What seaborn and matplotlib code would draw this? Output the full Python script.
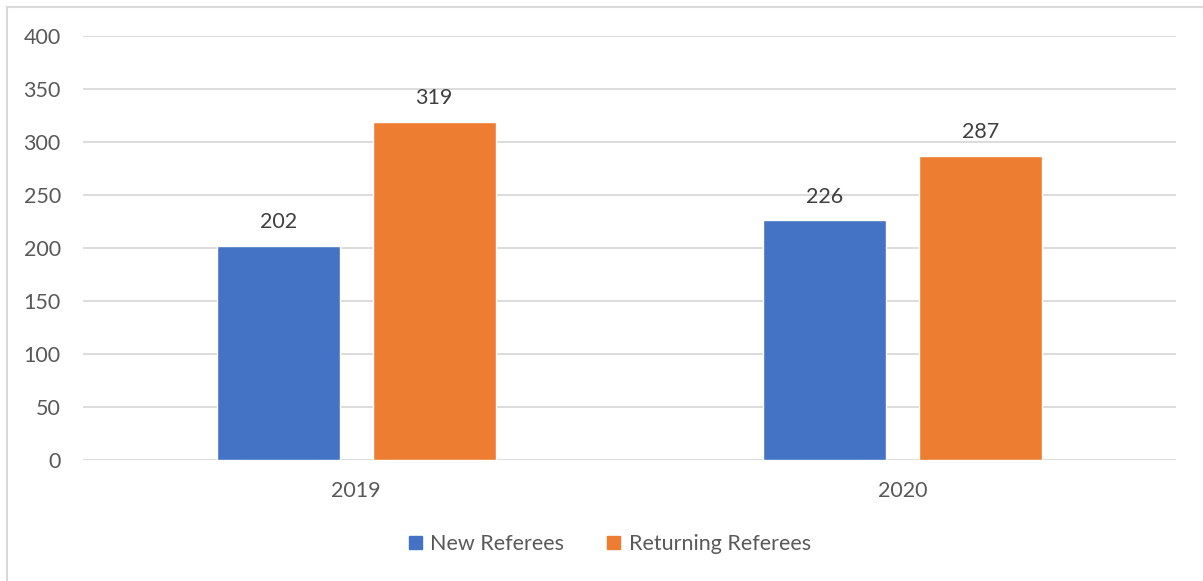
import matplotlib.pyplot as plt
import matplotlib.patches as mpatches
import pandas as pd
import seaborn as sns

years = ['2019', '2020']
new_referees = [202, 226]
returning_referees = [319, 287]
series_names = ['New Referees', 'Returning Referees']
y_ticks = [0, 50, 100, 150, 200, 250, 300, 350, 400]

df = pd.DataFrame({
    'Year': years * 2,
    'Series': [series_names[0]] * 2 + [series_names[1]] * 2,
    'Count': new_referees + returning_referees,
})

sns.set_theme(style='white')
plt.rcParams['font.family'] = ['Lato', 'DejaVu Sans']

text_color = '#595959'
grid_color = '#d9d9d9'
palette = {series_names[0]: '#4472C4', series_names[1]: '#ED7D31'}

fig = plt.figure(figsize=(12.03, 5.81), dpi=100)
ax = fig.add_axes([83 / 1203, 1 - 460 / 581, 1093 / 1203, 424 / 581])

sns.barplot(data=df, x='Year', y='Count', hue='Series', order=years,
            hue_order=series_names, palette=palette, width=0.57, gap=0.21,
            saturation=1, ax=ax, legend=False)

# value labels
for container in ax.containers:
    ax.bar_label(container, padding=10, fontsize=15.5, color='#404040')

ax.set_xlim(-0.5, 1.5)
ax.set_ylim(0, 400)
ax.set_yticks(y_ticks)
ax.yaxis.grid(True, color=grid_color, linewidth=1.3)
ax.set_axisbelow(True)
ax.set_xlabel(None)
ax.set_ylabel(None)
sns.despine(ax=ax, left=True, top=True, right=True, bottom=True)
ax.tick_params(axis='both', length=0, labelsize=15.5, labelcolor=text_color)
ax.tick_params(axis='y', pad=16)
ax.tick_params(axis='x', pad=15)

# legend
handles = [mpatches.Patch(color=palette[s], label=s) for s in series_names]
fig.legend(handles=handles, loc='center', bbox_to_anchor=(610 / 1203, 1 - 544 / 581),
           ncol=2, frameon=False, fontsize=15.5, labelcolor=text_color,
           handlelength=0.6, handleheight=0.6, handletextpad=0.4, columnspacing=2.0)

# chart border (left and top visible)
fig.add_artist(mpatches.Rectangle((7 / 1203, -0.1), 1.2, (1 - 7 / 581) + 0.1,
                                  transform=fig.transFigure, fill=False,
                                  edgecolor=grid_color, linewidth=1.5))

plt.savefig('out.png', dpi=100)
